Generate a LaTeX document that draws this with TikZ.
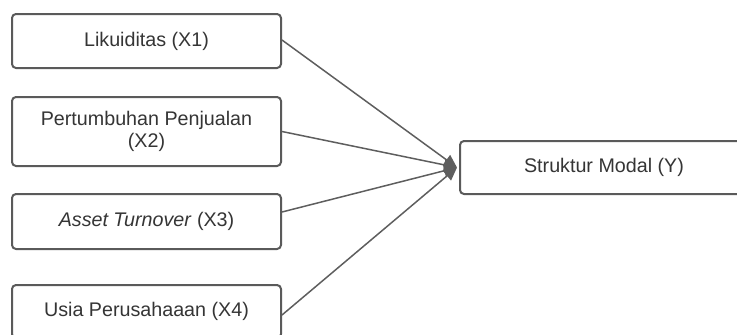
\documentclass[tikz,border=0pt]{standalone}
\usepackage{fontspec}
\setmainfont{Liberation Sans}
\usetikzlibrary{arrows.meta,calc}
\definecolor{boxline}{HTML}{5A5A5A}
\definecolor{conn}{HTML}{5E5E5E}
\definecolor{txt}{HTML}{353535}
\begin{document}
\begin{tikzpicture}[x=1pt,y=-1pt,
  box/.style={draw=boxline, line width=2pt, rounded corners=4pt, fill=white,
    text=txt, align=center, inner sep=0pt,
    font=\fontsize{19.7pt}{21.7pt}\selectfont},
  conn/.style={draw=conn, line width=1.5pt,
    -{Triangle[length=13pt,width=12pt]}}]
\useasboundingbox (0,0) rectangle (737,335);
\clip (0,0) rectangle (737,335);
\node[box, minimum width=269pt, minimum height=54pt] (b1) at (146.5,41) {Likuiditas (X1)};
\node[box, minimum width=269pt, minimum height=69pt] (b2) at (146.5,131.5) {Pertumbuhan Penjualan\\(X2)};
\node[box, minimum width=269pt, minimum height=55pt] (b3) at (146.5,221.5) {\textit{Asset Turnover} (X3)};
\node[box, minimum width=269pt, minimum height=53pt] (b4) at (146.5,311.5) {Usia Perusahaaan (X4)};
\node[box, minimum width=288pt, minimum height=53pt] (y) at (604,167.5) {Struktur Modal (Y)};
\coordinate (tip) at ([xshift=-2pt]y.west);
\draw[conn] ([yshift=1pt]b1.east) -- (tip);
\draw[conn] (b2.east) -- (tip);
\draw[conn] ([yshift=9.5pt]b3.east) -- (tip);
\draw[conn] ([yshift=-3.5pt]b4.east) -- (tip);
\end{tikzpicture}
\end{document}
